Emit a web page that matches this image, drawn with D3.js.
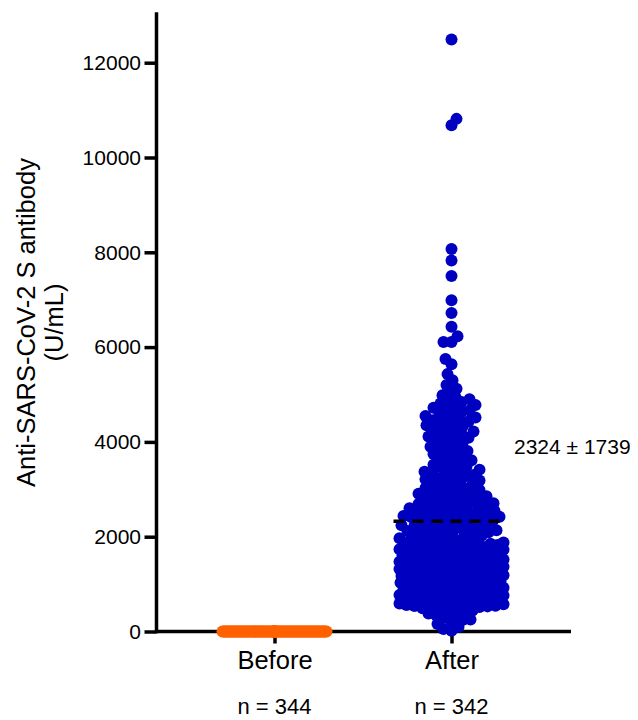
<!DOCTYPE html>
<html>
<head>
<meta charset="utf-8">
<script src="https://cdn.jsdelivr.net/npm/d3@7"></script>
<style>
  html, body { margin: 0; padding: 0; background: #fff; }
  svg { display: block; }
  text { font-family: "Liberation Sans", Arial, sans-serif; fill: #000; }
</style>
</head>
<body>
<div id="chart"></div>
<script>
const categories = ["Before", "After"];
const nLabels = ["n = 344", "n = 342"];
const yTicks = [0, 2000, 4000, 6000, 8000, 10000, 12000];
const yMax = 13000;
const meanAfter = 2324;
const sdAfter = 1739;
const annotation = "2324 ± 1739";
const yTitle = ["Anti-SARS-CoV-2 S antibody", "(U/mL)"];

// Before: all 344 samples at the bottom of the scale (below detection)
const beforeValues = [
0.4,0.4,0.4,0.4,0.4,0.4,0.4,0.4,0.4,0.4,0.4,0.4,0.4,0.4,0.4,0.4,0.4,0.4,0.4,0.4,
0.4,0.4,0.4,0.4,0.4,0.4,0.4,0.4,0.4,0.4,0.4,0.4,0.4,0.4,0.4,0.4,0.4,0.4,0.4,0.4,
0.4,0.4,0.4,0.4,0.4,0.4,0.4,0.4,0.4,0.4,0.4,0.4,0.4,0.4,0.4,0.4,0.4,0.4,0.4,0.4,
0.4,0.4,0.4,0.4,0.4,0.4,0.4,0.4,0.4,0.4,0.4,0.4,0.4,0.4,0.4,0.4,0.4,0.4,0.4,0.4,
0.4,0.4,0.4,0.4,0.4,0.4,0.4,0.4,0.4,0.4,0.4,0.4,0.4,0.4,0.4,0.4,0.4,0.4,0.4,0.4,
0.4,0.4,0.4,0.4,0.4,0.4,0.4,0.4,0.4,0.4,0.4,0.4,0.4,0.4,0.4,0.4,0.4,0.4,0.4,0.4,
0.4,0.4,0.4,0.4,0.4,0.4,0.4,0.4,0.4,0.4,0.4,0.4,0.4,0.4,0.4,0.4,0.4,0.4,0.4,0.4,
0.4,0.4,0.4,0.4,0.4,0.4,0.4,0.4,0.4,0.4,0.4,0.4,0.4,0.4,0.4,0.4,0.4,0.4,0.4,0.4,
0.4,0.4,0.4,0.4,0.4,0.4,0.4,0.4,0.4,0.4,0.4,0.4,0.4,0.4,0.4,0.4,0.4,0.4,0.4,0.4,
0.4,0.4,0.4,0.4,0.4,0.4,0.4,0.4,0.4,0.4,0.4,0.4,0.4,0.4,0.4,0.4,0.4,0.4,0.4,0.4,
0.4,0.4,0.4,0.4,0.4,0.4,0.4,0.4,0.4,0.4,0.4,0.4,0.4,0.4,0.4,0.4,0.4,0.4,0.4,0.4,
0.4,0.4,0.4,0.4,0.4,0.4,0.4,0.4,0.4,0.4,0.4,0.4,0.4,0.4,0.4,0.4,0.4,0.4,0.4,0.4,
0.4,0.4,0.4,0.4,0.4,0.4,0.4,0.4,0.4,0.4,0.4,0.4,0.4,0.4,0.4,0.4,0.4,0.4,0.4,0.4,
0.4,0.4,0.4,0.4,0.4,0.4,0.4,0.4,0.4,0.4,0.4,0.4,0.4,0.4,0.4,0.4,0.4,0.4,0.4,0.4,
0.4,0.4,0.4,0.4,0.4,0.4,0.4,0.4,0.4,0.4,0.4,0.4,0.4,0.4,0.4,0.4,0.4,0.4,0.4,0.4,
0.4,0.4,0.4,0.4,0.4,0.4,0.4,0.4,0.4,0.4,0.4,0.4,0.4,0.4,0.4,0.4,0.4,0.4,0.4,0.4,
0.4,0.4,0.4,0.4,0.4,0.4,0.4,0.4,0.4,0.4,0.4,0.4,0.4,0.4,0.4,0.4,0.4,0.4,0.4,0.4,
0.4,0.4,0.4,0.4
];

// After: 342 samples
const afterValues = [
18,52,95,160,210,240,255,290,330,345,380,395,430,445,465,490,
505,515,515,530,540,545,550,560,575,585,590,595,600,610,620,630,635,640,650,655,665,675,680,690,700,705,710,720,725,735,
745,750,760,765,770,780,790,800,810,815,825,830,835,845,850,860,870,880,890,900,905,910,925,940,955,970,990,
1000,1010,1020,1030,1040,1045,1055,1060,1070,1080,1090,1095,1105,1110,1120,1130,1135,1145,1150,1160,
1170,1175,1185,1190,1200,1210,1215,1225,1230,1240,1250,1260,1265,1275,1280,1290,1300,1305,1315,1320,
1330,1340,1350,1355,1365,1375,1385,1390,1400,1410,1420,1430,1440,1450,1460,1470,1480,1495,
1505,1515,1520,1530,1540,1550,1560,1570,1580,1590,1600,1610,1615,1625,1635,1645,1650,1660,1670,1680,
1690,1700,1705,1715,1725,1735,1745,1750,1760,1770,1780,1790,1800,1805,1815,1825,1835,1845,1850,1860,
1870,1880,1890,1900,1910,1920,1935,1950,1965,1985,
2005,2020,2030,2045,2060,2070,2085,2095,2110,2120,2135,2150,2160,2175,2190,2200,2215,2230,2240,2255,
2270,2285,2300,2310,2325,2340,2355,2370,2385,2395,2410,2420,2435,2450,2460,2470,2480,2490,2498,
2510,2525,2540,2555,2570,2585,2600,2615,2630,2645,2660,2675,2690,2705,2720,2735,2750,2770,2785,2800,
2820,2840,2855,2870,2890,2905,2925,2945,2965,2985,
3010,3030,3055,3075,3100,3120,3140,3165,3185,3210,3230,3255,3275,3300,3320,3345,3370,3390,3415,3440,3460,3485,
3520,3550,3585,3615,3650,3680,3715,3745,3780,3810,3845,3870,3900,3935,3970,
4010,4035,4060,4090,4115,4140,4165,4190,4220,4245,4270,4300,4325,4350,4380,4405,4430,4455,4475,4495,
4515,4545,4570,4600,4630,4660,4690,4720,4750,4780,4810,4840,4870,4900,4940,4985,
5050,5120,5200,5300,5430,5640,5750,6110,6110,6230,6430,6720,6990,7500,7825,8070,
10680,10815,12490
];

const groupValues = [beforeValues, afterValues];
const groupColors = ["#ff6000", "#0000c0"];

const W = 638, H = 720;
const svg = d3.select("#chart").append("svg").attr("width", W).attr("height", H);

const y = d3.scaleLinear().domain([0, yMax]).range([631.5, 15.3]);
const x = d3.scalePoint().domain(categories).range([155, 571]).padding(0.675);
const axisX = 156.5;

// Y axis
const yAxis = svg.append("g")
  .attr("transform", `translate(${axisX},0)`)
  .call(d3.axisLeft(y).tickValues(yTicks).tickFormat(d3.format("d")).tickSize(12).tickPadding(3.5).tickSizeOuter(0));
yAxis.select(".domain").attr("stroke-width", 3.5).attr("d", `M0,${y(0)+1.75}V${y(yMax)-3}`);
yAxis.selectAll(".tick line").attr("stroke-width", 3.5);
yAxis.selectAll(".tick text").style("font-size", "21px").style("font-family", "'Liberation Sans', Arial, sans-serif").attr("fill", "#000");

// X axis
const xAxis = svg.append("g")
  .attr("transform", `translate(0,${y(0)})`)
  .call(d3.axisBottom(x).tickSize(12).tickPadding(7).tickSizeOuter(0));
xAxis.select(".domain").attr("stroke-width", 3.5).attr("d", `M${axisX},0H571`);
xAxis.selectAll(".tick line").attr("stroke-width", 3.5);
xAxis.selectAll(".tick text").style("font-size", "25.5px").style("font-family", "'Liberation Sans', Arial, sans-serif").attr("fill", "#000");

// n labels
svg.append("g").selectAll("text").data(categories).join("text")
  .attr("x", d => x(d)).attr("y", 714)
  .attr("text-anchor", "middle").style("font-size", "22px")
  .text((d, i) => nLabels[i]);

// Y title
const titleG = svg.append("g").attr("transform", "translate(0,322.5) rotate(-90)");
titleG.append("text").attr("x", 0).attr("y", 35).attr("text-anchor", "middle")
  .style("font-size", "25.5px").text(yTitle[0]);
titleG.append("text").attr("x", 0).attr("y", 62.5).attr("text-anchor", "middle")
  .style("font-size", "25.5px").text(yTitle[1]);

// Beeswarm layout
const R = 6, minDist = 7.6, maxHalf = 52, step = 1;
function swarm(values, cx) {
  const pts = values.map(v => ({ v, py: y(v) })).sort((a, b) => a.v - b.v);
  const placed = [];
  pts.forEach((p, idx) => {
    const nb = placed.filter(q => Math.abs(q.py - p.py) < minDist);
    let chosen = null, bestOff = 0, bestD = -1;
    const first = idx % 2 === 0 ? 1 : -1;
    for (let k = 0; k * step <= maxHalf && chosen === null; k++) {
      const offs = k === 0 ? [0] : [first * k * step, -first * k * step];
      for (const off of offs) {
        let md = Infinity;
        for (const q of nb) {
          const d = Math.hypot(off - q.dx, p.py - q.py);
          if (d < md) md = d;
        }
        if (md >= minDist) { chosen = off; break; }
        if (md > bestD) { bestD = md; bestOff = off; }
      }
    }
    p.dx = chosen === null ? bestOff : chosen;
    placed.push(p);
  });
  return pts.map(p => ({ v: p.v, cx: cx + p.dx, cy: p.py }));
}

categories.forEach((c, i) => {
  const pts = swarm(groupValues[i], x(c));
  svg.append("g").selectAll("circle").data(pts).join("circle")
    .attr("cx", d => d.cx).attr("cy", d => d.cy).attr("r", R)
    .attr("fill", groupColors[i]);
});

// Mean line
svg.append("line")
  .attr("x1", x("After") - 58).attr("x2", x("After") + 52)
  .attr("y1", y(meanAfter)).attr("y2", y(meanAfter))
  .attr("stroke", "#000").attr("stroke-width", 3.5)
  .attr("stroke-dasharray", "11,8");

// Annotation
svg.append("text").attr("x", 514).attr("y", 454)
  .style("font-size", "21px").text(annotation);
</script>
</body>
</html>
